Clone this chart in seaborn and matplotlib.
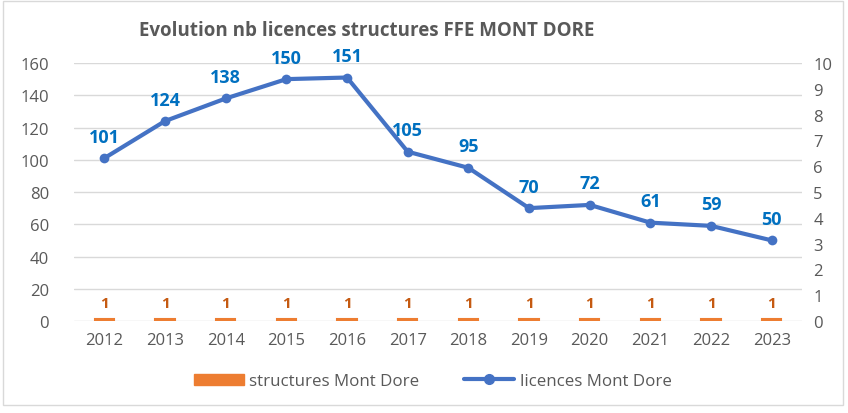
import matplotlib
matplotlib.use("Agg")
import matplotlib.pyplot as plt
import seaborn as sns
import pandas as pd
from matplotlib.patches import Patch
from matplotlib.lines import Line2D

years = ["2012", "2013", "2014", "2015", "2016", "2017", "2018", "2019", "2020", "2021", "2022", "2023"]
licences = [101, 124, 138, 150, 151, 105, 95, 70, 72, 61, 59, 50]
structures = [1, 1, 1, 1, 1, 1, 1, 1, 1, 1, 1, 1]

title = "Evolution nb licences structures FFE MONT DORE"
bar_label = "structures Mont Dore"
line_label = "licences Mont Dore"

df = pd.DataFrame({"year": years, "licences": licences, "structures": structures})

sns.set_theme(style="white")
plt.rcParams['font.family'] = ['Open Sans', 'DejaVu Sans']

fig = plt.figure(figsize=(8.48, 4.14), dpi=100)
ax = fig.add_axes([0.0873, 0.2222, 0.8585, 0.6232])

orange = "#ED7D31"
blue = "#4472C4"
gray = "#595959"

sns.barplot(data=df, x="year", y="structures", color=orange, width=0.32, ax=ax,
            saturation=1, zorder=3)
for p in ax.patches:
    p.set_linewidth(1.5)
    p.set_edgecolor(orange)

sns.lineplot(data=df, x="year", y="licences", color=blue, linewidth=3, marker="o",
             markersize=7, markeredgewidth=0, ax=ax, zorder=4, sort=False)

ax.set_ylim(0, 160)
ax.set_yticks(range(0, 161, 20))
ax.set_xlim(-0.5, len(years) - 0.5)
ax.yaxis.grid(True, color="#D9D9D9", linewidth=1)
ax.set_axisbelow(True)
for s in ax.spines.values():
    s.set_visible(False)
ax.set_xlabel("")
ax.set_ylabel("")
ax.tick_params(axis="both", length=0, labelsize=12, labelcolor=gray, pad=8)
ax.tick_params(axis="y", pad=18)

ax2 = ax.twinx()
ax2.set_ylim(0, 10)
ax2.set_yticks(range(0, 11))
for s in ax2.spines.values():
    s.set_visible(False)
ax2.tick_params(axis="y", length=0, labelsize=12, labelcolor=gray, pad=8)
ax2.grid(False)

for i, v in enumerate(licences):
    ax.annotate(str(v), (i, v), xytext=(0, 9), textcoords="offset points",
                ha="center", va="bottom", color="#0070C0", fontsize=13, fontweight="bold")
for i, v in enumerate(structures):
    ax.annotate(str(v), (i, v), xytext=(0, 7), textcoords="offset points",
                ha="center", va="bottom", color="#C55A11", fontsize=11, fontweight="bold")

fig.text(0.433, 0.925, title, ha="center", va="center", fontsize=13.5, fontweight="bold", color=gray)

handles = [Patch(facecolor=orange, edgecolor=orange),
           Line2D([0], [0], color=blue, linewidth=3, marker="o", markersize=7)]
fig.legend(handles, [bar_label, line_label], loc="center", bbox_to_anchor=(0.51, 0.077),
           ncol=2, frameon=False, fontsize=12.2, labelcolor=gray, handlelength=3.0,
           handleheight=0.6, columnspacing=2.6, handletextpad=0.3)

fig.patches.append(plt.Rectangle((0.004, 0.02), 0.99, 0.975, transform=fig.transFigure,
                                 fill=False, edgecolor="#D9D9D9", linewidth=1))

fig.savefig("out.png", dpi=100)
